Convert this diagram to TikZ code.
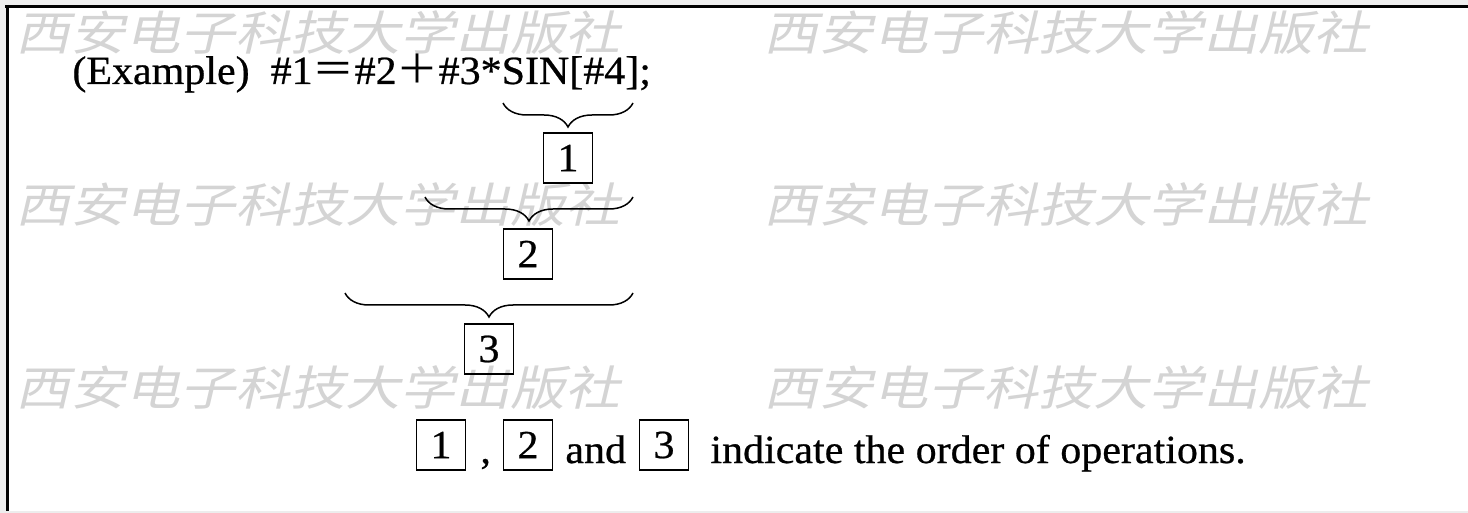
\documentclass[tikz,border=0pt]{standalone}
\usepackage{graphicx}
\usepackage{fontspec}
\setmainfont[FakeBold=0.6]{Liberation Serif}
\newfontfamily\cjk{Noto Sans CJK SC}
\newfontfamily\wmfont[FakeSlant=0.2]{Noto Sans CJK SC}
\usetikzlibrary{decorations.pathreplacing}
\newcommand\wide[1]{\scalebox{1.05}[1]{#1}}
\newcommand\wmwide[1]{\scalebox{1.17}[1]{#1}}
\begin{document}
\begin{tikzpicture}[x=0.5pt,y=-0.5pt,
  txt/.style={inner sep=0pt,font=\fontsize{20}{24}\selectfont},
  numbox/.style={draw,line width=0.9pt,inner sep=0pt,minimum width=24.5pt,minimum height=25pt,font=\fontsize{20}{24}\selectfont},
  wm/.style={inner sep=0pt,anchor=west,text=black!17,font=\wmfont\fontsize{23.5}{24}\selectfont},
  br/.style={decorate,decoration={brace,mirror,amplitude=12pt,aspect=0.5},line width=0.75pt},
  frame/.style={line width=1.5pt}]
% background and frame
\fill[black!7] (0,0) rectangle (1468,513);
\fill[white] (7,7) rectangle (1468,511);
\useasboundingbox (0,0) rectangle (1468,513);
\draw[frame] (5,7) -- (1468,7);
\draw[frame] (7,5) -- (7,511);
% watermarks
\foreach \yy/\nm in {33/a,205/b,388/c}{
  \node[wm] (wl\nm) at (15,\yy) {\wmwide{西安电子科技大学出版社}};
  \node[wm] (wr\nm) at (763,\yy) {\wmwide{西安电子科技大学出版社}};
}
% expression
\node[txt,anchor=base west] (eq) at (72,84) {\wide{(Example)~~\#1{\cjk ＝}\#2{\cjk ＋}\#3*SIN[\#4];}};
% braces
\coordinate (b1l) at (503,103); \coordinate (b1r) at (633,103);
\coordinate (b2l) at (425,197); \coordinate (b2r) at (633,197);
\coordinate (b3l) at (345,293); \coordinate (b3r) at (633,293);
\draw[br] (b1l) -- (b1r);
\draw[br] (b2l) -- (b2r);
\draw[br] (b3l) -- (b3r);
\node[numbox] (n1) at (568,158) {\wide{1}};
\node[numbox] (n2) at (528,254) {\wide{2}};
\node[numbox] (n3) at (489,349) {\wide{3}};
% bottom line
\node[numbox] (m1) at (441,445) {\wide{1}};
\node[txt,anchor=base west] (comma) at (480,463) {\wide{,}};
\node[numbox] (m2) at (528,445) {\wide{2}};
\node[txt,anchor=base west] (and) at (565,463) {\wide{and}};
\node[numbox] (m3) at (664,445) {\wide{3}};
\node[txt,anchor=base west] (note) at (710,463) {\wide{indicate the order of operations.}};
\end{tikzpicture}
\end{document}
